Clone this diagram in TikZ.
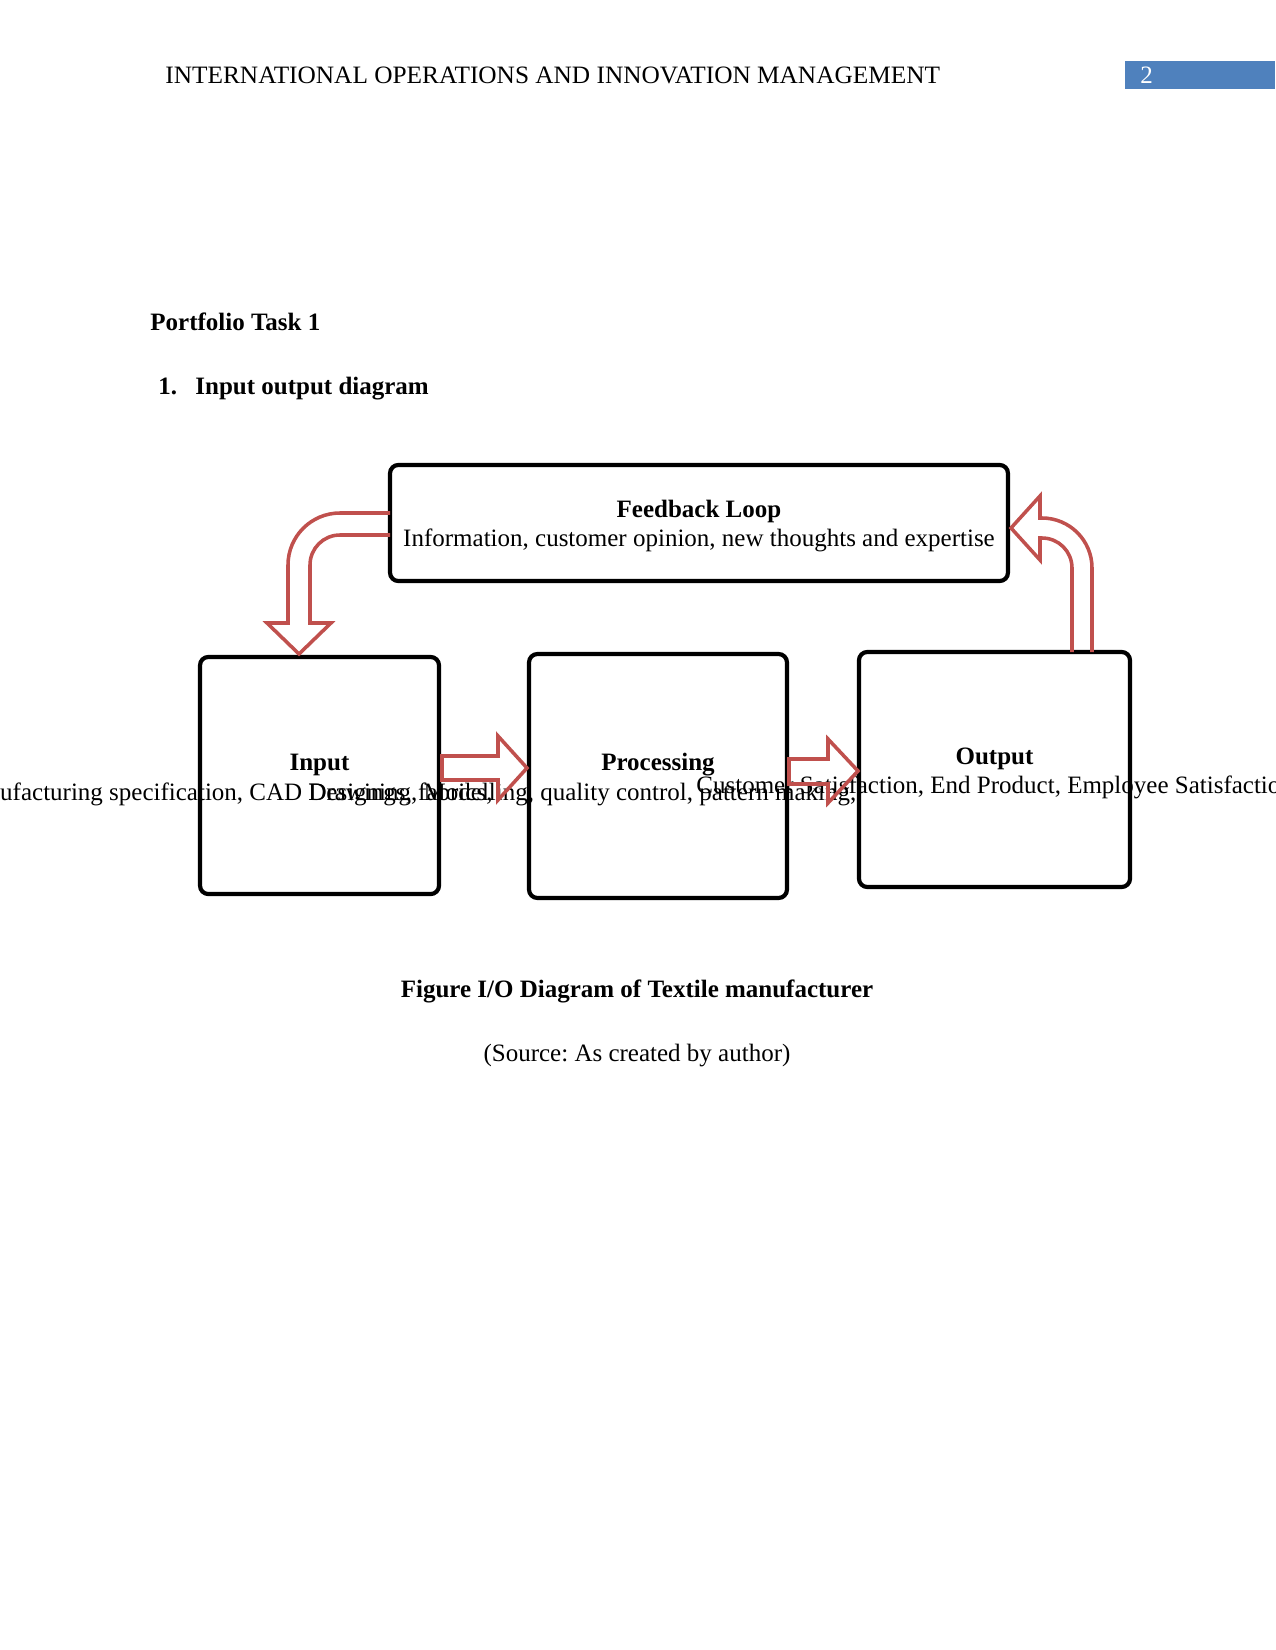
\documentclass[tikz,border=0pt]{standalone}
\usepackage{fontspec}
\setmainfont{Liberation Serif}
\frenchspacing

\begin{document}
\begin{tikzpicture}[x=0.48pt, y=-0.48pt,
    plain/.style={font=\fontsize{12pt}{14pt}\selectfont, inner sep=0pt, anchor=base},
    bold/.style={font=\fontsize{12pt}{14pt}\selectfont\bfseries, inner sep=0pt, anchor=base},
    stagebox/.style={draw, line width=2pt, rounded corners=4pt, inner sep=0pt},
    blockarrow/.style={draw=arrowred, line width=1.7pt, line join=miter}]

    % Define custom colors
    \definecolor{arrowred}{RGB}{192,80,77}
    \definecolor{headerblue}{RGB}{79,129,189}

    % 0. Page (letter size, 1 unit = 1 pixel)
    \useasboundingbox (0,0) rectangle (1275,1650);

    % 1. Running header and page number
    \node[plain, anchor=base west, xscale=1.013] (header) at (165,84) {INTERNATIONAL OPERATIONS AND INNOVATION MANAGEMENT};
    \fill[headerblue] (1125,61) rectangle (1275,89);
    \node[plain, anchor=base west, white] (pagenum) at (1140,84) {2};

    % 2. Headings
    \node[bold, anchor=base west] (task) at (150,331) {Portfolio Task 1};
    \node[bold, anchor=base west] (itemnum) at (158,395) {1.};
    \node[bold, anchor=base west] (itemtitle) at (195,395) {Input output diagram};

    % 3. Stage boxes
    \node[stagebox, minimum width=296.6pt, minimum height=55.7pt] (feedback) at (699,523) {};
    \node[stagebox, minimum width=114.7pt, minimum height=113.8pt] (input) at (319.5,775.5) {};
    \node[stagebox, minimum width=123.8pt, minimum height=117.1pt] (processing) at (658,776) {};
    \node[stagebox, minimum width=130.1pt, minimum height=112.8pt] (output) at (994.5,769.5) {};

    % 4. Box texts (the long lines run past their boxes)
    \node[bold] (fbtitle) at (699,517) {Feedback Loop};
    \node[plain] (fbtext) at (699,546) {Information, customer opinion, new thoughts and expertise};

    \node[bold] (intitle) at (319.5,770) {Input};
    \node[plain, anchor=base west] (intext) at (-46,800) {Manufacturing specification, CAD Drawings, fabrics,};

    \node[bold] (proctitle) at (658,770) {Processing};
    \node[plain, anchor=base west] (proctext) at (308,800) {Designing, Modelling, quality control, pattern making,};

    \node[bold] (outtitle) at (994.5,764) {Output};
    \node[plain, anchor=base west] (outtext) at (696,793) {Customer Satisfaction, End Product, Employee Satisfaction};

    % 5. Block arrows between the stages
    % Input -> Processing
    \draw[blockarrow] (442,756) -- (498,756) -- (498,736) -- (527,768) -- (498,800) -- (498,780) -- (442,780) -- cycle;
    % Processing -> Output
    \draw[blockarrow] (789,759) -- (828,759) -- (828,739) -- (858,771) -- (828,803) -- (828,784) -- (789,784) -- cycle;

    % Feedback -> Input (bent down)
    \draw[blockarrow] (390,513) -- (340,513)
        .. controls (311.3,513) and (288,536.3) .. (288,565)
        -- (288,623) -- (267,623) -- (299,654) -- (331,623) -- (310,623) -- (310,565)
        .. controls (310,548.4) and (323.4,535) .. (340,535) -- (390,535);

    % Output -> Feedback (bent up)
    \draw[blockarrow] (1092,652) -- (1092,568)
        .. controls (1092,540.4) and (1069.6,518) .. (1042,518)
        -- (1040,518) -- (1040,496) -- (1011,528) -- (1040,560) -- (1040,538) -- (1042,538)
        .. controls (1058.6,538) and (1072,551.4) .. (1072,568) -- (1072,652);

    % 6. Caption
    \node[bold] (caption) at (637,997) {Figure I/O Diagram of Textile manufacturer};
    \node[plain] (source) at (637,1061) {(Source: As created by author)};

\end{tikzpicture}
\end{document}
